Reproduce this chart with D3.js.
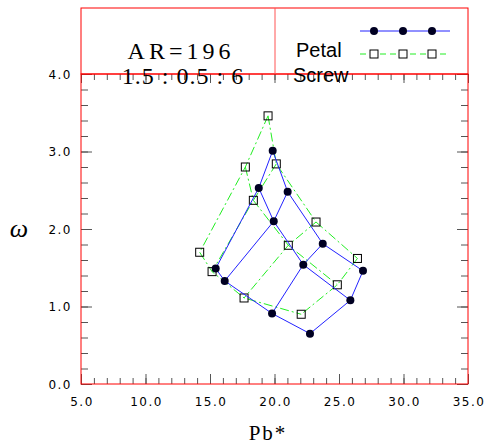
<!DOCTYPE html>
<html lang="en">
<head>
    <meta charset="UTF-8">
    <script src="https://cdn.jsdelivr.net/npm/d3@7"></script>
    <title>omega vs Pb*</title>
    <style>
        body { margin: 0; background: #fff; }
        .tick-label {
          font-family: "DejaVu Sans", sans-serif;
          font-size: 12px;
          letter-spacing: 1.5px;
          fill: #000;
        }
    </style>
</head>
<body>
    <svg width="484" height="446"></svg>
    <script>
        // Petal grid: 3 rows x 4 columns (Pb*, omega)
        var petalX = [[19.86, 21.02, 23.74, 26.86],
                      [18.78, 19.94, 22.23, 25.88],
                      [15.44, 16.14, 19.81, 22.75]];
        var petalY = [[3.01, 2.48, 1.81, 1.46],
                      [2.53, 2.10, 1.54, 1.08],
                      [1.49, 1.33, 0.91, 0.65]];

        // Screw grid: 3 rows x 4 columns
        var screwX = [[19.50, 20.14, 23.22, 26.43],
                      [17.74, 18.36, 21.07, 24.87],
                      [14.20, 15.16, 17.64, 22.07]];
        var screwY = [[3.46, 2.84, 2.09, 1.62],
                      [2.80, 2.37, 1.79, 1.28],
                      [1.70, 1.45, 1.11, 0.90]];

        var xMajor = [5, 10, 15, 20, 25, 30, 35];
        var yMajor = [0, 1, 2, 3, 4];
        var seriesNames = ["Petal", "Screw"];

        var svg = d3.select("svg");

        var x = d3.scaleLinear().domain([5, 35]).range([81, 468]);
        var y = d3.scaleLinear().domain([0, 4]).range([384, 74]);

        var xMinor = d3.range(5, 35.01, 1);
        var yMinor = d3.range(0, 4.01, 0.2);

        // ticks (inside)
        function tickAxis(axis, vals, len, tr) {
            var g = svg.append("g")
                       .attr("transform", tr)
                       .call(axis.tickValues(vals).tickSize(len).tickFormat(""));
            g.select(".domain").remove();
            g.selectAll("line").attr("stroke", "#555");
            return g;
        }
        tickAxis(d3.axisBottom(x), xMinor, -6, "translate(0,384)");
        tickAxis(d3.axisBottom(x), xMajor, -10, "translate(0,384)");
        tickAxis(d3.axisTop(x), xMinor, -6, "translate(0,74)");
        tickAxis(d3.axisTop(x), xMajor, -9, "translate(0,74)");
        tickAxis(d3.axisLeft(y), yMinor, -7, "translate(81,0)");
        tickAxis(d3.axisLeft(y), yMajor, -11, "translate(81,0)");
        tickAxis(d3.axisRight(y), yMinor, -7, "translate(468,0)");
        tickAxis(d3.axisRight(y), yMajor, -11, "translate(468,0)");

        // tick labels
        svg.append("g").selectAll("text")
           .data(xMajor).enter().append("text")
           .attr("class", "tick-label")
           .attr("x", function(d) { return x(d) + 1; })
           .attr("y", 406)
           .attr("text-anchor", "middle")
           .text(function(d) { return d.toFixed(1); });

        svg.append("g").selectAll("text")
           .data(yMajor).enter().append("text")
           .attr("class", "tick-label")
           .attr("x", 72)
           .attr("y", function(d) { return y(d) + 4.5; })
           .attr("text-anchor", "end")
           .text(function(d) { return d.toFixed(1); });

        // axis titles
        svg.append("text")
           .attr("x", 268).attr("y", 440)
           .attr("text-anchor", "middle")
           .style("font-family", "'Liberation Serif', serif")
           .style("font-size", "21px")
           .style("letter-spacing", "2px")
           .text("Pb*");

        svg.append("text")
           .attr("x", 19).attr("y", 237)
           .attr("text-anchor", "middle")
           .style("font-family", "'Liberation Serif', serif")
           .style("font-style", "italic")
           .style("font-size", "26px")
           .text("\u03C9");

        // grid lines
        var line = d3.line()
                     .x(function(d) { return x(d[0]); })
                     .y(function(d) { return y(d[1]); });

        function gridPaths(X, Y, color, dash) {
            var paths = [];
            for (var i = 0; i < X.length; i++) {
                paths.push(X[i].map(function(v, j) { return [v, Y[i][j]]; }));
            }
            for (var j = 0; j < X[0].length; j++) {
                paths.push(X.map(function(r, i) { return [X[i][j], Y[i][j]]; }));
            }
            svg.append("g").selectAll("path")
               .data(paths).enter().append("path")
               .attr("d", line)
               .attr("fill", "none")
               .attr("stroke", color)
               .attr("stroke-width", 1)
               .attr("stroke-dasharray", dash);
        }

        function flat(X, Y) {
            var pts = [];
            X.forEach(function(r, i) { r.forEach(function(v, j) { pts.push([v, Y[i][j]]); }); });
            return pts;
        }

        gridPaths(screwX, screwY, "#22ee22", "9,3,2,3");
        svg.append("g").selectAll("rect")
           .data(flat(screwX, screwY)).enter().append("rect")
           .attr("x", function(d) { return x(d[0]) - 4; })
           .attr("y", function(d) { return y(d[1]) - 4; })
           .attr("width", 8).attr("height", 8)
           .attr("fill", "none")
           .attr("stroke", "#000");

        gridPaths(petalX, petalY, "#2222ff", null);
        svg.append("g").selectAll("circle")
           .data(flat(petalX, petalY)).enter().append("circle")
           .attr("cx", function(d) { return x(d[0]); })
           .attr("cy", function(d) { return y(d[1]); })
           .attr("r", 4)
           .attr("fill", "#000022");

        // frame
        svg.append("rect")
           .attr("x", 81).attr("y", 74)
           .attr("width", 387).attr("height", 310)
           .attr("fill", "none").attr("stroke", "#ff0000");

        // header box
        svg.append("rect")
           .attr("x", 81).attr("y", 8)
           .attr("width", 387).attr("height", 66)
           .attr("fill", "none").attr("stroke", "#ff0000");
        svg.append("line")
           .attr("x1", 275).attr("x2", 275).attr("y1", 8).attr("y2", 74)
           .attr("stroke", "#ff5555");

        svg.append("text")
           .attr("x", 181).attr("y", 59)
           .attr("text-anchor", "middle")
           .style("font-family", "'Liberation Serif', serif")
           .style("font-size", "24px")
           .style("letter-spacing", "4px")
           .text("AR=196");
        svg.append("text")
           .attr("x", 183).attr("y", 84)
           .attr("text-anchor", "middle")
           .style("font-family", "'Liberation Serif', serif")
           .style("font-size", "24px")
           .style("letter-spacing", "1px")
           .text("1.5 : 0.5 : 6");

        // legend
        var legY = [31, 54];
        var legMarks = [374, 403, 432];
        svg.append("g").selectAll("text")
           .data(seriesNames).enter().append("text")
           .attr("x", function(d, i) { return i == 0 ? 296 : 293; })
           .attr("y", function(d, i) { return i == 0 ? 57 : 82; })
           .style("font-family", "'Liberation Sans', sans-serif")
           .style("font-size", "20px")
           .text(function(d) { return d; });

        svg.append("line")
           .attr("x1", 360).attr("x2", 450).attr("y1", legY[0]).attr("y2", legY[0])
           .attr("stroke", "#2222ff");
        svg.append("g").selectAll("circle")
           .data(legMarks).enter().append("circle")
           .attr("cx", function(d) { return d; }).attr("cy", legY[0])
           .attr("r", 4).attr("fill", "#000022");

        svg.append("line")
           .attr("x1", 360).attr("x2", 450).attr("y1", legY[1]).attr("y2", legY[1])
           .attr("stroke", "#22ee22").attr("stroke-dasharray", "6,4");
        svg.append("g").selectAll("rect")
           .data(legMarks).enter().append("rect")
           .attr("x", function(d) { return d - 4; }).attr("y", legY[1] - 4)
           .attr("width", 8).attr("height", 8)
           .attr("fill", "#fff").attr("stroke", "#000");
    </script>
</body>
</html>
